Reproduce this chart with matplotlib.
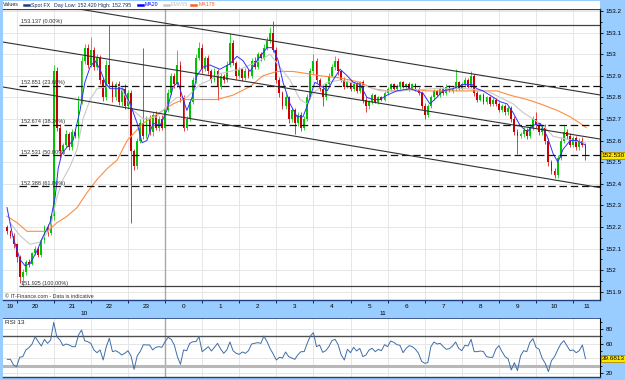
import numpy as np
import matplotlib
matplotlib.use("Agg")
import matplotlib.pyplot as plt
from matplotlib.transforms import blended_transform_factory
from matplotlib.ticker import MultipleLocator, FuncFormatter, FixedFormatter
from matplotlib.patches import Rectangle
from matplotlib.lines import Line2D

plt.rcParams['font.family'] = ['Liberation Sans', 'DejaVu Sans']

# ---------------- data ----------------
# time in hours relative to midnight between day 10 and day 11
candle_start = -4.25          # 19:45 on day 10
candle_step = 5 / 60          # 5-minute candles
first_open = 152.20

closes = [
    152.18, 152.16, 152.12, 152.06, 151.97, 151.99, 152.04, 152.03, 152.08, 152.10, 152.07, 152.14,
    152.20, 152.17, 152.25, 152.92, 152.66, 152.55, 152.58, 152.63, 152.57, 152.64, 152.62, 152.78,
    152.97, 153.03, 152.95, 153.02, 152.94, 152.98, 152.88, 152.80, 152.95, 152.86, 152.80, 152.86,
    152.78, 152.84, 152.76, 152.82, 152.55, 152.48, 152.60, 152.68, 152.62, 152.70, 152.64, 152.72,
    152.66, 152.70, 152.66, 152.74, 152.82, 152.90, 152.86, 152.95, 152.80, 152.66, 152.70, 152.78,
    152.88, 152.98, 153.03, 152.93, 152.98, 152.92, 152.88, 152.92, 152.85, 152.90, 152.88, 152.95,
    153.05, 152.96, 152.90, 152.93, 152.89, 152.92, 152.90, 152.97, 152.94, 153.00, 152.98, 153.03,
    153.06, 153.10, 153.02, 152.88, 152.82, 152.76, 152.80, 152.70, 152.74, 152.68, 152.72, 152.66,
    152.70, 152.80, 152.92, 152.97, 152.88, 152.84, 152.80, 152.86, 152.90, 152.94, 152.97, 152.92,
    152.88, 152.85, 152.87, 152.84, 152.86, 152.83, 152.87, 152.79, 152.76, 152.78, 152.81, 152.78,
    152.80, 152.79, 152.82, 152.84, 152.86, 152.84, 152.85, 152.87, 152.85, 152.86, 152.84, 152.86,
    152.84, 152.82, 152.76, 152.72, 152.76, 152.80, 152.83, 152.81, 152.84, 152.82, 152.85, 152.83,
    152.84, 152.87, 152.84, 152.86, 152.88, 152.85, 152.90, 152.82, 152.79, 152.81, 152.78, 152.80,
    152.77, 152.79, 152.77, 152.74, 152.76, 152.73, 152.75, 152.70, 152.64, 152.62, 152.63, 152.65,
    152.62, 152.66, 152.70, 152.67, 152.64, 152.66, 152.60, 152.50, 152.46, 152.44, 152.52, 152.60,
    152.64, 152.62, 152.58, 152.61, 152.57, 152.60, 152.58, 152.53,
]

# wick lengths beyond the candle body, in thousandths
upper_wick = [
    10, 8, 12, 6, 10, 15, 8, 12, 6, 14, 9, 11,
    8, 12, 10, 30, 20, 15, 10, 18, 8, 14, 12, 25,
    20, 15, 18, 60, 12, 20, 15, 10, 25, 187, 18, 12,
    15, 10, 20, 12, 15, 10, 12, 18, 350, 12, 20, 10,
    15, 12, 18, 10, 20, 15, 12, 70, 18, 12, 15, 10,
    12, 20, 25, 15, 12, 18, 10, 15, 12, 14, 10, 20,
    50, 15, 10, 12, 8, 14, 10, 12, 15, 10, 12, 15,
    20, 25, 55, 15, 12, 10, 15, 8, 12, 10, 14, 10,
    12, 15, 18, 30, 12, 10, 15, 8, 12, 15, 20, 10,
    8, 12, 10, 8, 12, 10, 8, 12, 10, 8, 10, 6,
    8, 6, 10, 8, 6, 8, 10, 6, 8, 6, 10, 8,
    6, 8, 10, 12, 8, 10, 8, 6, 10, 8, 10, 8,
    6, 60, 8, 10, 12, 8, 20, 10, 8, 6, 10, 8,
    8, 10, 6, 8, 10, 8, 12, 10, 15, 12, 10, 12,
    10, 15, 12, 30, 12, 10, 15, 12, 10, 15, 12, 15,
    30, 12, 15, 10, 12, 10, 15, 8,
]
lower_wick = [
    12, 10, 15, 20, 30, 45, 10, 15, 8, 12, 10, 8,
    12, 10, 8, 20, 15, 30, 12, 10, 15, 12, 10, 8,
    10, 15, 12, 10, 15, 12, 20, 15, 10, 15, 20, 12,
    15, 20, 12, 15, 330, 15, 10, 12, 15, 10, 12, 20,
    12, 15, 10, 12, 8, 10, 15, 10, 20, 15, 12, 10,
    10, 12, 8, 15, 10, 12, 15, 10, 60, 10, 12, 8,
    10, 12, 15, 10, 12, 8, 10, 12, 8, 10, 12, 8,
    10, 8, 12, 15, 20, 15, 12, 20, 15, 50, 12, 15,
    12, 10, 8, 12, 15, 10, 40, 12, 10, 8, 12, 15,
    10, 12, 8, 10, 12, 8, 10, 15, 30, 12, 10, 8,
    10, 8, 6, 8, 10, 6, 8, 10, 6, 8, 10, 8,
    10, 8, 12, 20, 10, 8, 10, 6, 8, 10, 8, 6,
    8, 10, 6, 8, 10, 8, 6, 12, 10, 8, 10, 12,
    10, 8, 12, 10, 8, 12, 10, 15, 12, 80, 10, 12,
    15, 10, 12, 10, 15, 12, 15, 20, 15, 15, 12, 10,
    12, 15, 10, 12, 15, 12, 10, 20,
]

rsi13 = [
    38.6, 38.6, 30.9, 28.6, 41.4, 42.3, 51.4, 54.5, 59.5, 69.5, 62.7, 56.8,
    65.9, 60.4, 65.0, 89.0, 69.5, 65.0, 57.3, 59.5, 58.2, 55.9, 55.9, 71.8,
    78.6, 64.1, 62.7, 60.4, 51.4, 47.7, 51.4, 37.7, 55.9, 67.3, 49.1, 50.4,
    48.2, 44.5, 46.8, 50.4, 43.2, 25.0, 43.2, 49.5, 58.6, 58.2, 58.2, 51.4,
    55.0, 55.9, 55.0, 62.7, 68.6, 65.9, 58.2, 42.3, 31.8, 51.4, 50.4, 60.4,
    62.7, 62.7, 69.5, 49.1, 52.3, 55.9, 50.0, 55.0, 60.4, 52.7, 46.8, 51.4,
    62.3, 50.4, 46.8, 45.4, 48.6, 46.8, 50.4, 59.5, 60.4, 61.4, 60.4, 70.4,
    62.7, 53.2, 45.9, 37.7, 41.4, 40.4, 48.6, 42.3, 40.4, 38.6, 45.0, 49.1,
    49.1, 60.4, 70.4, 75.0, 55.9, 58.2, 48.2, 50.4, 55.9, 64.1, 65.9, 58.6,
    44.5, 37.7, 52.3, 47.7, 55.0, 50.0, 53.6, 42.3, 44.5, 51.4, 53.6, 49.1,
    52.3, 50.4, 58.6, 55.9, 63.6, 61.8, 58.6, 57.7, 47.7, 53.6, 57.3, 55.9,
    52.3, 46.8, 35.9, 33.2, 34.1, 55.9, 62.3, 59.5, 60.4, 55.9, 52.3, 53.2,
    56.8, 62.3, 53.6, 50.4, 57.7, 56.8, 65.9, 49.1, 49.1, 50.0, 49.1, 42.3,
    41.4, 41.4, 52.3, 57.3, 49.1, 42.3, 39.1, 24.1, 34.1, 23.2, 43.2, 50.4,
    49.1, 61.4, 66.8, 55.0, 52.3, 40.0, 33.2, 21.8, 36.8, 42.3, 51.4, 59.5,
    64.1, 57.3, 50.4, 51.4, 47.7, 50.4, 58.2, 39.6813,
]

ma20_t = [-4.26, -4.10, -3.91, -3.77, -3.64, -3.45, -3.29, -3.10, -2.96, -2.88,
          -2.78, -2.64, -2.48, -2.29, -2.16, -2.02, -1.89, -1.75, -1.62, -1.48,
          -1.29, -1.13, -0.94, -0.75, -0.62, -0.49, -0.32, -0.13, 0.05, 0.22,
          0.35, 0.49, 0.59, 0.73, 0.86, 1.02, 1.21, 1.48, 1.75, 1.94,
          2.10, 2.29, 2.48, 2.75, 2.91, 3.05, 3.18, 3.37, 3.56, 3.72,
          3.85, 4.04, 4.23, 4.37, 4.53, 4.72, 4.91, 5.07, 5.26, 5.44,
          5.61, 5.80, 5.98, 6.25, 6.60, 6.95, 7.14, 7.33, 7.49, 7.76,
          8.03, 8.27, 8.41, 8.57, 8.76, 9.03, 9.22, 9.38, 9.57, 9.76,
          9.92, 10.11, 10.30, 10.46, 10.59, 10.73, 10.92, 11.11, 11.32]
ma20_v = [152.29, 152.155, 152.05, 152.02, 152.03, 152.09, 152.155, 152.22, 152.34, 152.47,
          152.54, 152.57, 152.60, 152.74, 152.87, 152.94, 152.97, 152.93, 152.87, 152.84,
          152.84, 152.84, 152.77, 152.68, 152.59, 152.60, 152.68, 152.67, 152.74, 152.85,
          152.87, 152.79, 152.74, 152.80, 152.90, 152.94, 152.95, 152.93, 152.955, 152.99,
          152.97, 152.92, 152.97, 153.03, 153.03, 152.97, 152.87, 152.77, 152.71, 152.71,
          152.77, 152.87, 152.85, 152.83, 152.88, 152.93, 152.90, 152.87, 152.86, 152.80,
          152.79, 152.79, 152.81, 152.83, 152.84, 152.82, 152.77, 152.80, 152.83, 152.84,
          152.86, 152.86, 152.84, 152.83, 152.81, 152.78, 152.77, 152.73, 152.67, 152.64,
          152.67, 152.68, 152.62, 152.54, 152.50, 152.56, 152.60, 152.60, 152.58]

ema55_t = [-4.18, -3.91, -3.64, -3.37, -3.10, -2.91, -2.75, -2.56, -2.37, -2.21,
           -2.02, -1.83, -1.56, -1.21, -0.86, -0.59, -0.22, 0.05, 0.32, 0.59,
           0.94, 1.21, 1.48, 2.02, 2.56, 2.83, 3.10, 3.37, 3.64, 3.83,
           3.99, 4.37, 4.72, 5.26, 5.80, 6.33, 7.22, 8.14, 8.68, 9.03,
           9.38, 9.65, 9.92, 10.19, 10.46, 10.73, 11.00, 11.32]
ema55_v = [152.22, 152.16, 152.12, 152.13, 152.19, 152.34, 152.42, 152.48, 152.56, 152.70,
           152.79, 152.84, 152.85, 152.85, 152.74, 152.70, 152.71, 152.76, 152.80, 152.80,
           152.86, 152.88, 152.91, 152.93, 152.97, 153.00, 152.94, 152.88, 152.79, 152.77,
           152.82, 152.87, 152.88, 152.86, 152.83, 152.83, 152.84, 152.84, 152.83, 152.80,
           152.77, 152.73, 152.70, 152.67, 152.62, 152.61, 152.60, 152.59]

ma178_t = [-4.26, -3.99, -3.72, -3.45, -3.18, -2.91, -2.64, -2.37, -2.10, -1.83,
           -1.56, -1.29, -1.02, -0.86, -0.59, -0.32, -0.05, 0.22, 0.49, 0.75,
           1.21, 1.40, 1.83, 2.29, 2.64, 3.02, 3.45, 3.83, 4.18, 4.72,
           5.26, 5.61, 5.98, 6.33, 6.60, 7.06, 7.76, 8.41, 8.95, 9.30,
           9.76, 10.11, 10.57, 10.92, 11.19, 11.35]
ma178_v = [152.25, 152.22, 152.18, 152.18, 152.18, 152.22, 152.25, 152.29, 152.36, 152.42,
           152.47, 152.51, 152.60, 152.63, 152.68, 152.71, 152.74, 152.77, 152.79, 152.79,
           152.79, 152.79, 152.81, 152.85, 152.90, 152.92, 152.92, 152.91, 152.90, 152.89,
           152.87, 152.84, 152.83, 152.83, 152.84, 152.83, 152.83, 152.83, 152.83, 152.81,
           152.79, 152.77, 152.74, 152.71, 152.68, 152.66]

fib_levels = [153.137, 152.851, 152.674, 152.531, 152.388, 151.925]
fib_pcts = ["0.00%", "23.60%", "38.20%", "50.00%", "61.80%", "100.00%"]

trend_t = [-4.37, 11.73]
trend_upper = [153.267, 152.811]
trend_middle = [153.056, 152.607]
trend_lower = [152.848, 152.382]

hour_labels = ["19", "20", "21", "22", "23", "0", "1", "2", "3", "4", "5",
               "6", "7", "8", "9", "10", "11"]
hour_starts = [-5, -4, -3, -2, -1, 0, 1, 2, 3, 4, 5, 6, 7, 8, 9, 10, 11]
day_labels = ["10", "11"]
day_starts = [-24, 0]

rsi_ticks = [20, 40, 60, 80]
rsi_tick_labels = ["20", "", "60", "80"]   # 40 is covered by the value box

last_price = 152.530
last_rsi = 39.6813
header_day = "Day Low: 152.420 High: 152.795"

assert len(closes) == len(upper_wick) == len(lower_wick) == len(rsi13) == 188
assert len(ma20_t) == len(ma20_v) and len(ema55_t) == len(ema55_v) and len(ma178_t) == len(ma178_v)

# ---------------- figure ----------------
W, H = 625, 380
fig = plt.figure(figsize=(W / 100, H / 100), dpi=100, facecolor='#99ccff')

def fx(px):
    return px / W

def fy(py):
    return 1 - py / H

XMIN, XMAX = -4.367, 11.725
ax = fig.add_axes([fx(3), fy(300), fx(597), 291 / H])
ax2 = fig.add_axes([fx(3), fy(377), fx(597), 59 / H])

# header strip
fig.patches.append(Rectangle((fx(3), fy(9)), fx(597), 8 / H, transform=fig.transFigure,
                             fc='white', ec='none', zorder=0))
hy = fy(5)
hfs = 3.8
fig.text(fx(3), hy, "Values", fontsize=hfs, va='center', ha='left', color='#202020')
items = [(24, 31, '#1f3f7f', "Spot FX", '#1a2a5a'),
         (138, 145, '#0000ff', "MA20", '#0000ff'),
         (164, 171, '#c8c8c8', "EMA55", '#c0c0c0'),
         (191, 199, '#ff6020', "MA178", '#ff6020')]
for x0, xt, lc, lab, tc in items:
    fig.add_artist(Line2D([fx(x0), fx(x0 + 5)], [hy, hy], transform=fig.transFigure,
                          color=lc, lw=1.8))
    fig.text(fx(xt), hy, lab, fontsize=hfs, va='center', ha='left', color=tc)
fig.text(fx(54), hy, header_day, fontsize=hfs, va='center', ha='left', color='#1a2a5a')

# ---------------- main panel ----------------
ax.set_facecolor('white')
ax.set_xlim(XMIN, XMAX)
ax.set_ylim(151.862, 153.209)

t = candle_start + candle_step * np.arange(len(closes))
c = np.array(closes)
o = np.r_[first_open, c[:-1]]
hi = np.maximum(o, c) + np.array(upper_wick) / 1000
lo = np.minimum(o, c) - np.array(lower_wick) / 1000
up = c >= o
body_col = np.where(up, '#00c400', '#cc0000')
wick_col = np.where(up, '#40d040', '#d84040')
ax.vlines(t, lo, hi, colors=wick_col, lw=0.7, zorder=3)
ax.bar(t, np.maximum(np.abs(c - o), 0.003), bottom=np.minimum(o, c), width=0.05,
       color=body_col, lw=0, zorder=3.5)

ax.plot(ma178_t, ma178_v, color='#ff8c40', lw=0.8, zorder=4)
ax.plot(ema55_t, ema55_v, color='#c8c8c8', lw=0.8, zorder=4)
ax.plot(ma20_t, ma20_v, color='#3030ff', lw=0.7, zorder=4.2)

fib_x0 = -3.935
for lvl, pct in zip(fib_levels, fib_pcts):
    solid = pct in ("0.00%", "100.00%")
    ax.hlines(lvl, fib_x0, XMAX, colors='#404040' if solid else '#111111',
              linestyles='-' if solid else (0, (6, 3)), lw=0.9, zorder=5)
    ax.text(fib_x0 + 0.04, lvl + 0.004, f"{lvl:.3f} ({pct})", fontsize=4,
            va='bottom', ha='left', color='#303030', zorder=6)

for tv in (trend_upper, trend_middle, trend_lower):
    ax.plot(trend_t, tv, color='#303030', lw=0.8, zorder=5)

ax.axvline(0, color='#a8a8a8', lw=1.0, zorder=1.5)

ax.set_yticks(np.round(np.arange(151.9, 153.21, 0.1), 1))
ax.yaxis.set_minor_locator(MultipleLocator(0.05))
ax.yaxis.set_major_formatter(FuncFormatter(lambda v, _: f"{round(v, 1):g}"))
ax.set_xticks(hour_starts[1:])
ax.grid(which='major', color='#e6e6e6', lw=0.7, zorder=0)
ax.set_axisbelow(True)
ax.tick_params(axis='y', which='both', left=False, right=True, labelleft=False,
               labelright=True, direction='out', width=0.6, pad=1.5, labelsize=4.6,
               colors='black')
ax.tick_params(axis='y', which='major', length=2.5)
ax.tick_params(axis='y', which='minor', length=1.5)
ax.tick_params(axis='x', which='major', direction='out', length=2, width=0.7,
               color='#202040', labelbottom=False)
ax.spines['left'].set_visible(False)
ax.spines['top'].set_color('#404040')
ax.spines['top'].set_linewidth(0.9)
ax.spines['right'].set_color('black')
ax.spines['right'].set_linewidth(0.9)
ax.spines['bottom'].set_color('#1f3f7f')
ax.spines['bottom'].set_linewidth(1.0)

ax.text(0.003, 0.004, "\u00a9 IT-Finance.com - Data is indicative", transform=ax.transAxes,
        fontsize=3.9, va='bottom', ha='left', color='#303030')

bt = blended_transform_factory(ax.transAxes, ax.transData)
ax.text(1.003, last_price, f"{last_price:.3f}", transform=bt, fontsize=4.6, ha='left',
        va='center', clip_on=False, zorder=10,
        bbox=dict(boxstyle='square,pad=0.2', fc='#ffe800', ec='#b08800', lw=0.6))

# x labels in the band
xt = ax.get_xaxis_transform()
for lab, hs in zip(hour_labels, hour_starts):
    a, b = max(hs, XMIN), min(hs + 1, XMAX)
    ax.text((a + b) / 2, -0.021, lab, transform=xt, ha='center', va='center',
            fontsize=4.6, clip_on=False, color='black')
for lab, ds in zip(day_labels, day_starts):
    a, b = max(ds, XMIN), min(ds + 24, XMAX)
    ax.text((a + b) / 2, -0.045, lab, transform=xt, ha='center', va='center',
            fontsize=4.6, clip_on=False, color='black')

# ---------------- RSI panel ----------------
ax2.set_facecolor('white')
ax2.set_xlim(XMIN, XMAX)
ax2.set_ylim(14.5, 95)
ax2.plot(t, rsi13, color='#3d6fa8', lw=0.7, zorder=4)
ax2.axhline(70, color='#505050', lw=1.0, zorder=3)
ax2.axhline(30, color='#b8b8b8', lw=2.2, zorder=3)
ax2.axvline(0, color='#a8a8a8', lw=1.0, zorder=1.5)
ax2.set_yticks(rsi_ticks)
ax2.yaxis.set_major_formatter(FixedFormatter(rsi_tick_labels))
ax2.yaxis.set_minor_locator(MultipleLocator(10))
ax2.set_xticks(hour_starts[1:])
ax2.grid(which='major', color='#e6e6e6', lw=0.7, zorder=0)
ax2.set_axisbelow(True)
ax2.tick_params(axis='y', which='both', left=False, right=True, labelleft=False,
                labelright=True, direction='out', width=0.6, pad=1.5, labelsize=4.6)
ax2.tick_params(axis='y', which='major', length=2.5)
ax2.tick_params(axis='y', which='minor', length=1.5)
ax2.tick_params(axis='x', which='both', length=0, labelbottom=False)
ax2.spines['left'].set_visible(False)
ax2.spines['top'].set_color('#1f3f7f')
ax2.spines['top'].set_linewidth(0.6)
ax2.spines['right'].set_color('black')
ax2.spines['bottom'].set_color('#1f3f7f')
ax2.spines['bottom'].set_linewidth(1.0)
ax2.text(0.003, 0.92, "RSI 13", transform=ax2.transAxes, fontsize=4.6, va='center',
         ha='left', color='#202020')
bt2 = blended_transform_factory(ax2.transAxes, ax2.transData)
ax2.text(1.003, last_rsi, f"{last_rsi:.4f}", transform=bt2, fontsize=4.6, ha='left',
         va='center', clip_on=False, zorder=10,
         bbox=dict(boxstyle='square,pad=0.2', fc='#ffe800', ec='#b08800', lw=0.6))

fig.savefig("out.png", dpi=100, facecolor=fig.get_facecolor())
